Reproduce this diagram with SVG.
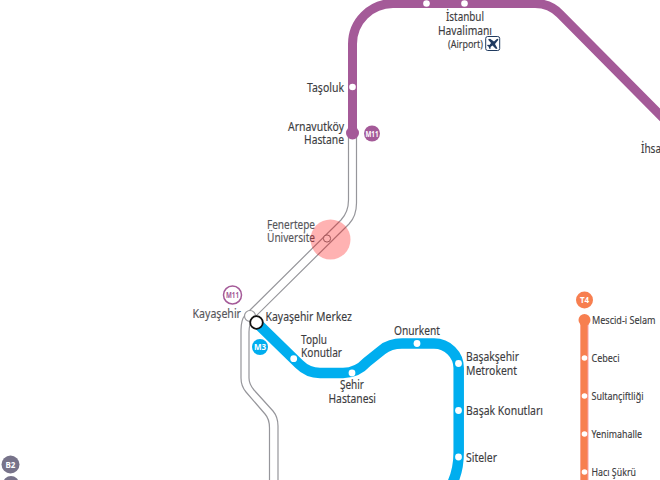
<svg xmlns="http://www.w3.org/2000/svg" width="660" height="480" viewBox="0 0 660 480">
<style>
text{font-family:"Noto Sans","Liberation Sans",sans-serif;font-size:13px;fill:#3c3c40;stroke:#3c3c40;stroke-width:.15px}
.s{font-size:11px}
.b{font-size:8px;font-weight:700;fill:#fff;stroke:none;text-anchor:middle}
.g{fill:none;stroke:#96969b;stroke-width:1.2}
.d{fill:#fff}
.m{fill:#55555a;stroke:#55555a}
</style>
<rect width="660" height="480" fill="#fff"/>
<g id="connectors" fill="none">
<path class="g" d="M348.500 133V200Q348.500 212 341 220L245 315Q241 320 241 330V378Q241 386 246 392L265 414Q269.500 419 269.500 428V480"/>
<path class="g" d="M356.500 133V203Q356.500 216 349 224L253 319Q249 324 249 332V378Q249 384 254 390L273 411Q278 417 278 426V480"/>
<path d="M352.500 133V44A40.500 40.500 0 0 1 393 3.500H535Q550 3.500 560 14L664 119" stroke="#a45a98" stroke-width="9"/>
<path d="M256.500 322.500L299 364Q308 373 320 373H343Q357 373 367 362L382 350Q390 343.500 402 343.500H434A24.700 24.700 0 0 1 458.700 368V452Q458.700 470 452 484" stroke="#00aeef" stroke-width="10.500"/>
<path d="M584.500 320V480" stroke="#f9a0a8" stroke-width="8"/>
<path d="M584 320V480" stroke="#f77f50" stroke-width="7"/>
</g>
<g id="line-m11-stations">
<circle class="d" cx="426.500" cy="3.500" r="3.300"/><circle class="d" cx="464.500" cy="3.500" r="3.300"/>
<circle class="d" cx="352.500" cy="87" r="3.300"/><circle cx="352.500" cy="133" r="6.500" fill="#a45a98"/>
</g>
<g id="st-tasoluk"><text x="307" y="92" textLength="37" lengthAdjust="spacingAndGlyphs">Taşoluk</text></g>
<g id="st-arnavutkoy"><text x="288" y="131" textLength="56" lengthAdjust="spacingAndGlyphs">Arnavutköy</text><text x="304" y="144" textLength="40" lengthAdjust="spacingAndGlyphs">Hastane</text></g>
<g id="badge-m11"><circle cx="372" cy="133.500" r="8" fill="#a45a98"/><text class="b" x="372" y="136.500" textLength="13" lengthAdjust="spacingAndGlyphs">M11</text></g>
<g id="st-airport">
<text x="446" y="21" textLength="38" lengthAdjust="spacingAndGlyphs">İstanbul</text>
<text x="438" y="35" textLength="54" lengthAdjust="spacingAndGlyphs">Havalimanı</text>
<text class="s" x="448" y="48" textLength="35" lengthAdjust="spacingAndGlyphs">(Airport)</text>
<rect x="485.700" y="36.500" width="14" height="14" rx="2" fill="#fff" stroke="#1f3a5f" stroke-width="1"/>
<path d="M488 39.500L490 38.800L494 41.500L496.500 39.200Q498 38.300 498.300 39Q498.500 40 497 41.500L495 44L497.500 48.500L496 49L492.500 45.500L490.500 47L490.700 48.500L489.500 49L488.500 46.500L487 45.500L487.700 44.700L489.500 45L491 43L488 39.500Z" fill="#1f3a5f"/>
</g>
<g id="st-ihsa"><text x="641" y="153" textLength="20" lengthAdjust="spacingAndGlyphs">İhsa</text></g>
<g id="st-fenertepe">
<circle cx="327" cy="238.500" r="3.600" fill="#fff" stroke="#77777c" stroke-width="1"/>
<text class="m" x="267" y="229" textLength="48" lengthAdjust="spacingAndGlyphs">Fenertepe</text>
<text class="m" x="267" y="242" textLength="48" lengthAdjust="spacingAndGlyphs">Üniversite</text>
</g>
<g id="st-kayasehir">
<circle cx="250" cy="316" r="5.500" fill="#fff" stroke="#96969b" stroke-width="1.200"/>
<text class="m" x="192.500" y="318" textLength="48.500" lengthAdjust="spacingAndGlyphs">Kayaşehir</text>
<circle cx="232.500" cy="295" r="9" fill="#fff" stroke="#a45a98" stroke-width="1.500"/>
<text class="b" x="232.500" y="298" textLength="13" lengthAdjust="spacingAndGlyphs" style="fill:#a45a98">M11</text>
</g>
<g id="st-kayasehir-merkez">
<circle cx="256.500" cy="322.500" r="6.300" fill="#fff" stroke="#111" stroke-width="1.800"/>
<text x="265.500" y="321" textLength="86.500" lengthAdjust="spacingAndGlyphs">Kayaşehir Merkez</text>
<circle cx="260" cy="347" r="8" fill="#00aeef"/><text class="b" x="260" y="350">M3</text>
</g>
<g id="st-toplu"><circle class="d" cx="293.700" cy="358.700" r="3.400"/><text x="301" y="344" textLength="26" lengthAdjust="spacingAndGlyphs">Toplu</text><text x="301" y="357" textLength="41" lengthAdjust="spacingAndGlyphs">Konutlar</text></g>
<g id="st-sehir"><circle class="d" cx="352" cy="373" r="3.400"/><text x="340" y="389" textLength="24" lengthAdjust="spacingAndGlyphs">Şehir</text><text x="328.500" y="403" textLength="47.500" lengthAdjust="spacingAndGlyphs">Hastanesi</text></g>
<g id="st-onurkent"><circle class="d" cx="417" cy="343.500" r="3.400"/><text x="394" y="335" textLength="46" lengthAdjust="spacingAndGlyphs">Onurkent</text></g>
<g id="st-metrokent"><circle class="d" cx="458.500" cy="363.500" r="3.400"/><text x="466" y="361" textLength="53" lengthAdjust="spacingAndGlyphs">Başakşehir</text><text x="466" y="375" textLength="51" lengthAdjust="spacingAndGlyphs">Metrokent</text></g>
<g id="st-basak"><circle class="d" cx="458.500" cy="410.500" r="3.400"/><text x="466" y="415" textLength="77" lengthAdjust="spacingAndGlyphs">Başak Konutları</text></g>
<g id="st-siteler"><circle class="d" cx="458.500" cy="457" r="3.400"/><text x="466" y="462" textLength="31" lengthAdjust="spacingAndGlyphs">Siteler</text></g>
<g id="badge-t4"><circle cx="584.500" cy="300" r="8.500" fill="#f77f50"/><text class="b" x="584.500" y="303">T4</text></g>
<g id="st-mescid"><circle cx="584.500" cy="320" r="6" fill="#f77f50"/><text class="s" x="592" y="324" textLength="63.500" lengthAdjust="spacingAndGlyphs">Mescid-i Selam</text></g>
<g id="st-cebeci"><circle class="d" cx="584.500" cy="358" r="2.800"/><text class="s" x="591.500" y="362" textLength="28" lengthAdjust="spacingAndGlyphs">Cebeci</text></g>
<g id="st-sultan"><circle class="d" cx="584.500" cy="396" r="2.800"/><text class="s" x="591.500" y="400" textLength="52" lengthAdjust="spacingAndGlyphs">Sultançiftliği</text></g>
<g id="st-yeni"><circle class="d" cx="584.500" cy="434" r="2.800"/><text class="s" x="591.500" y="438" textLength="50.500" lengthAdjust="spacingAndGlyphs">Yenimahalle</text></g>
<g id="st-haci"><circle class="d" cx="584.500" cy="472" r="2.800"/><text class="s" x="591.500" y="476" textLength="44.500" lengthAdjust="spacingAndGlyphs">Hacı Şükrü</text></g>
<g id="badge-b2"><circle cx="10.500" cy="464.500" r="9" fill="#77738a"/><text class="b" x="10.500" y="467.500">B2</text><circle cx="11" cy="484" r="8" fill="#77738a"/></g>
<circle id="highlight" cx="330.500" cy="239.500" r="20" fill="#ff0000" fill-opacity="0.3"/>
</svg>
